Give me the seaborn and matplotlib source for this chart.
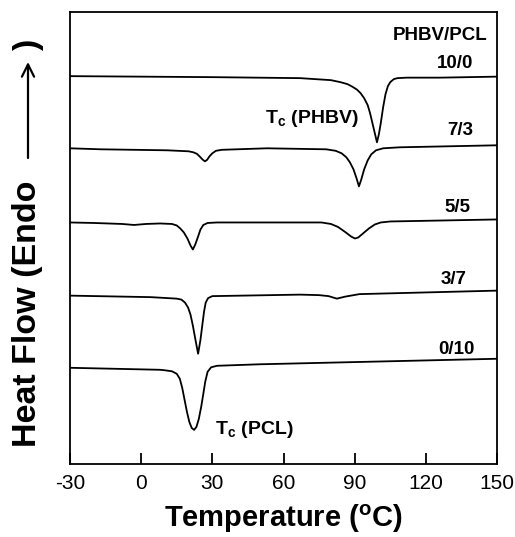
import numpy as np
import pandas as pd
import matplotlib
matplotlib.use("Agg")
import matplotlib.pyplot as plt
import seaborn as sns

# ---- data (temperature in °C, heat flow in arbitrary units, curves offset) ----
t_10_0 = [-30, 0, 30, 67, 80, 84, 87, 89, 91, 92.5, 94, 95.5, 96.5, 97.5, 98.5, 99.4,
          100.2, 101, 102, 103, 104, 105, 106.5, 108, 112, 126, 150]
h_10_0 = [38.7, 38.65, 38.6, 38.5, 38.3, 38.1, 37.9, 37.65, 37.35, 37.0, 36.5, 35.8, 35.0, 34.0, 33.0, 32.1,
          32.9, 34.0, 35.6, 36.9, 37.7, 38.1, 38.4, 38.5, 38.55, 38.55, 38.65]

t_7_3 = [-30, -17, 11, 20, 22, 23.5, 25, 26, 26.9, 27.8, 28.8, 30, 31.5, 34, 53, 78, 82, 84.5, 86.5,
         88, 89.5, 90.8, 91.8, 92.8, 94, 95.5, 97, 99, 102, 109, 150]
h_7_3 = [31.5, 31.4, 31.3, 31.2, 31.1, 30.95, 30.6, 30.35, 30.2, 30.35, 30.7, 31.0, 31.25, 31.35, 31.5, 31.4, 31.25, 31.0, 30.6,
         30.1, 29.4, 28.5, 27.7, 28.4, 29.4, 30.3, 30.9, 31.3, 31.5, 31.6, 31.8]

t_5_5 = [-30, -20, -8, -3, 2, 8, 13, 15, 16.5, 18, 19.5, 20.8, 21.8, 22.8, 24, 25, 26.2, 28, 32, 50,
         76, 80, 83, 86, 88.5, 90.1, 91.5, 93.5, 96, 98.5, 101, 105, 150]
h_5_5 = [24.1, 24.05, 23.95, 23.85, 23.95, 24.0, 23.95, 23.8, 23.5, 23.1, 22.5, 21.8, 21.4, 21.9, 22.7, 23.4, 23.85, 24.05, 24.1, 24.1,
         24.1, 23.95, 23.65, 23.15, 22.7, 22.5, 22.6, 23.0, 23.5, 23.9, 24.1, 24.2, 24.4]

t_3_7 = [-30, 4, 15, 17, 18.5, 19.8, 20.8, 21.8, 22.8, 24, 25, 25.8, 26.5, 27.2, 28.2, 30, 67,
         75, 79, 82.5, 86, 92, 150]
h_3_7 = [16.8, 16.65, 16.5, 16.4, 16.1, 15.6, 14.9, 13.8, 12.5, 11.0, 12.4, 13.9, 15.2, 16.1, 16.55, 16.75, 16.9,
         16.85, 16.75, 16.5, 16.7, 16.95, 17.3]

t_0_10 = [-30, 8, 10, 13, 15, 16.3, 17.3, 18.3, 19.3, 20.3, 21.3, 22.3, 23.3, 24.3, 25.3, 26.2, 27,
          28, 29.5, 32, 50, 150]
h_0_10 = [9.6, 9.4, 9.35, 9.25, 9.0, 8.5, 7.6, 6.4, 5.2, 4.2, 3.6, 3.4, 3.7, 4.5, 5.7, 7.0, 8.2,
          9.2, 9.65, 9.8, 9.95, 10.5]

compositions = ["10/0", "7/3", "5/5", "3/7", "0/10"]
x_ticks = [-30, 0, 30, 60, 90, 120, 150]

frames = []
for name, t, h in zip(compositions,
                      [t_10_0, t_7_3, t_5_5, t_3_7, t_0_10],
                      [h_10_0, h_7_3, h_5_5, h_3_7, h_0_10]):
    frames.append(pd.DataFrame({"Temperature": t, "HeatFlow": h, "Blend": name}))
df = pd.concat(frames, ignore_index=True)

sns.set_style("ticks")
plt.rcParams["font.family"] = ["Liberation Sans", "DejaVu Sans"]
plt.rcParams["mathtext.fontset"] = "custom"
plt.rcParams["mathtext.rm"] = "Liberation Sans:bold"
plt.rcParams["mathtext.it"] = "Liberation Sans:bold"
plt.rcParams["mathtext.bf"] = "Liberation Sans:bold"
plt.rcParams["text.color"] = "black"
plt.rcParams["axes.labelcolor"] = "black"
plt.rcParams["xtick.color"] = "black"
plt.rcParams["xtick.labelcolor"] = "black"

fig = plt.figure(figsize=(5.15, 5.37), dpi=100)
ax = fig.add_axes([70 / 515, 1 - 464 / 537, 427 / 515, 452 / 537])

sns.lineplot(data=df, x="Temperature", y="HeatFlow", hue="Blend",
             palette={c: "black" for c in compositions}, legend=False,
             linewidth=1.3, ax=ax, estimator=None, sort=False)

ax.set_xlim(-30, 150)
ax.set_ylim(0, 45.1)
ax.set_xticks(x_ticks)
ax.set_xticklabels([str(v) for v in x_ticks], fontsize=15, color="black")
ax.set_yticks([])
ax.tick_params(axis="x", direction="in", length=8, width=1.3, pad=7, top=False, colors="black")
for s in ax.spines.values():
    s.set_linewidth(1.3)
    s.set_color("black")

ax.set_xlabel(r"Temperature ($^{o}$C)", fontsize=21, fontweight="bold", labelpad=7, color="black")
ax.set_ylabel("")

# curve labels
lab_kw = dict(fontsize=13.5, fontweight="bold", ha="right", va="baseline", color="black")
ax.text(146.2, 42.3, "PHBV/PCL", **lab_kw)
label_pos = {"10/0": (139.9, 39.5), "7/3": (139.9, 32.8), "5/5": (139.0, 25.1),
             "3/7": (137.3, 18.0), "0/10": (140.7, 11.0)}
for c in compositions:
    x, y = label_pos[c]
    ax.text(x, y, c, **lab_kw)

ax.text(52.2, 34.0, r"T$_{c}$ (PHBV)", fontsize=14, fontweight="bold", ha="left", va="baseline", color="black")
ax.text(31.1, 3.0, r"T$_{c}$ (PCL)", fontsize=14, fontweight="bold", ha="left", va="baseline", color="black")

# y label with long arrow
fig.text(28 / 515, 1 - 447 / 537, "Heat Flow (Endo", rotation=90, fontsize=24.5,
         fontweight="bold", ha="center", va="bottom", color="black")
ax.annotate("", xy=(28 / 515, 1 - 62 / 537), xytext=(28 / 515, 1 - 158 / 537),
            xycoords="figure fraction", textcoords="figure fraction",
            arrowprops=dict(arrowstyle="->", lw=1.6, color="black",
                            mutation_scale=22, shrinkA=0, shrinkB=0),
            annotation_clip=False)
fig.text(28 / 515, 1 - 44 / 537, ")", rotation=90, fontsize=24.5,
         fontweight="bold", ha="center", va="center", color="black")

fig.savefig("out.png", dpi=100)
